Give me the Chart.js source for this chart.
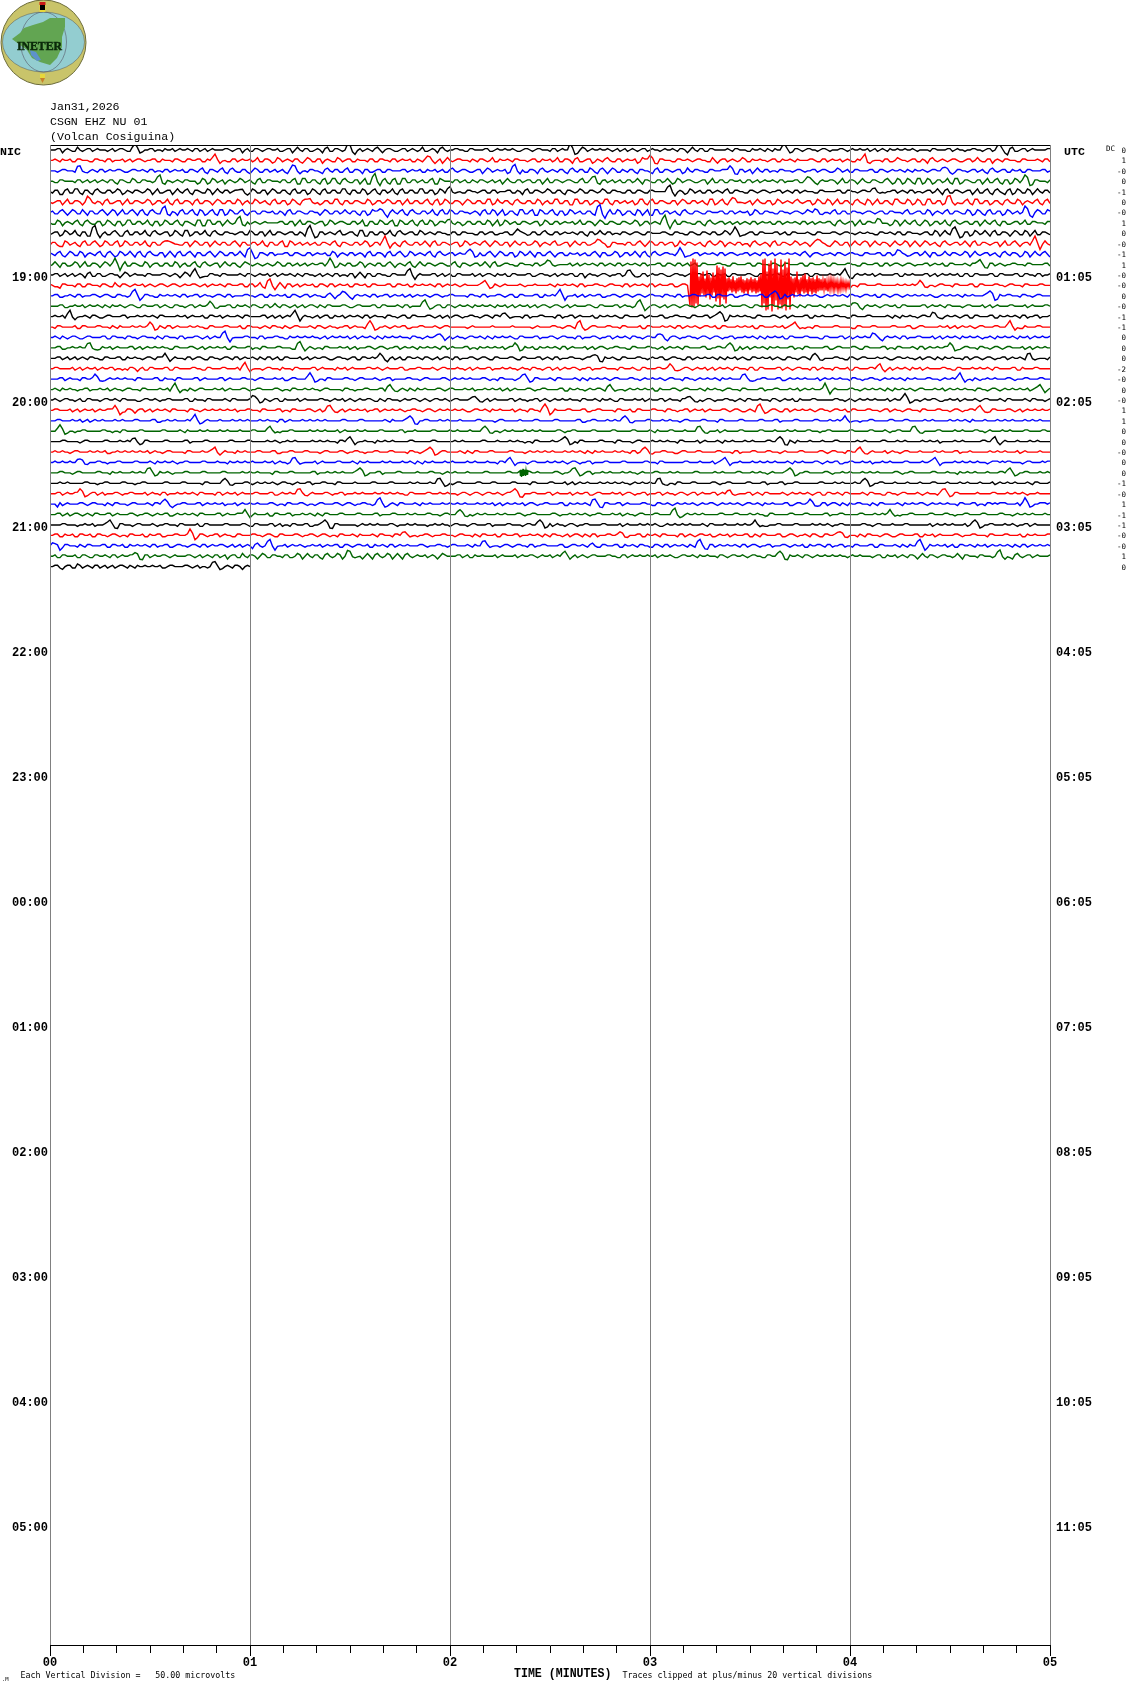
<!DOCTYPE html>
<html><head><meta charset="utf-8">
<script src="https://cdn.jsdelivr.net/npm/chart.js@4"></script>
<style>html,body{margin:0;padding:0;background:#fff;width:1130px;height:1689px;overflow:hidden}
#wrap{position:relative;width:1130px;height:1689px}canvas{position:absolute;left:0;top:0}svg{position:absolute;left:0;top:0}</style>
</head><body><div id="wrap">
<canvas id="c" width="1130" height="1689"></canvas>
<svg width="90" height="88" viewBox="0 0 90 88">
<circle cx="43.5" cy="42.5" r="42.5" fill="#c9c46a" stroke="#6b6b3a" stroke-width="1"/>
<ellipse cx="43.5" cy="42" rx="41" ry="30" fill="#93cdd0" stroke="#555" stroke-width=".5"/>
<ellipse cx="43.5" cy="42" rx="23" ry="30" fill="none" stroke="#556" stroke-width=".6"/>
<path d="M12 39 L20 33 L24 28 L33 25 L43 22 L50 18 L65 18 L65 27 L62 37 L62 47 L57 58 L50 65 L40 62 L32 58 L27 50 L20 45Z" fill="#62a552"/>
<path d="M30 50 L36 52 L41 60 L37 61 L31 55Z" fill="#5d92cc"/>
<rect x="39.5" y="2" width="6" height="10" fill="#e8d83a"/><rect x="39.5" y="2" width="6" height="3" fill="#c81818"/><rect x="40" y="5" width="5" height="5" fill="#000"/>
<rect x="40" y="74" width="5" height="4" fill="#e8d83a"/><path d="M40 78 L45 78 L42.5 83Z" fill="#c8802a"/>
<text x="17" y="49.5" font-family="Liberation Serif" font-weight="bold" font-size="13" textLength="45" lengthAdjust="spacingAndGlyphs" fill="#0a2a0a" stroke="#0a2a0a" stroke-width=".5">INETER</text>
</svg></div>
<script>
const headerLines=["Jan31,2026","CSGN EHZ NU 01","(Volcan Cosiguina)"];
const nicLabels=["19:00","20:00","21:00","22:00","23:00","00:00","01:00","02:00","03:00","04:00","05:00"];
const utcLabels=["01:05","02:05","03:05","04:05","05:05","06:05","07:05","08:05","09:05","10:05","11:05"];
const hourRows=[12,24,36,48,60,72,84,96,108,120,132];
const minuteLabels=["00","01","02","03","04","05"];
const traceColors=["#000000","#ff0000","#0000ff","#006400"];
const dcValues=["0","1","-0","0","-1","0","-0","1","0","-0","-1","1","-0","-0","0","-0","-1","-1","0","0","0","-2","-0","0","-0","1","1","0","0","-0","0","0","-1","-0","1","-1","-1","-0","-0","1","0"];
// estimated wiggle of each trace, 2 = trace baseline
const t00=[2,2,3,2,2,1,2,2,3,2, 2,2,2,1,3,2,1,3,2,2, 3,1,2,3,2,1,3,2,2,3, 1,3,2,2,2,3,2,2,3,2, 1,3,2,2,3,2,1,2,3,2, 2,3,1,2,2,3,1,3,2,2, 2,1,3,2,2,3,2,2,3,1, 2,3,2,2,2,1,2,2,3,2, 2,3,2,1,3,2,2,3,1,2, 2,3,2,2,1,3,2,2,3,2, 1,3,2,2,3,1,2,3,2,2, 3,2,2,2,1,3,2,2,2,3, 2,2,1,3,2,2,3,2,2,2, 3,1,3,2,2,2,2,3,2,2, 1,2,3,1,2,3,2,2,2,3, 2,2,3,2,2,3,1,2,3,2, 2,2,3,2,1,3,2,2,3,2, 2,3,2,2,2,2,1,3,2,2, 3,2,2,1,2,3,2,2,3,2, 2,2,3,1,2,3,2,2,2,2,3];
const t01=[2,3,1,2,3,1,3,2,1,3, 2,1,3,2,2,1,3,2,3,1, 2,3,1,2,2,3,2,1,3,2, 3,1,2,3,2,2,1,3,2,2, 3,2,1,3,2,1,3,2,2,3, 1,2,3,1,3,2,2,1,3,2, 3,1,2,2,3,1,3,2,1,3, 2,2,3,1,2,3,1,2,3,2, 2,2,3,2,1,2,3,2,2,1, 3,2,2,3,2,2,2,3,1,2, 3,2,1,3,2,3,1,2,3,1, 2,3,2,1,3,2,2,3,1,3, 2,2,3,2,2,1,3,2,2,2, 3,2,1,2,2,3,2,2,2,3, 1,2,3,2,2,3,1,2,3,1, 2,2,3,2,1,3,2,2,3,2, 2,1,2,3,2,2,2,3,1,2, 3,2,2,3,1,2,3,2,2,2, 2,3,1,2,3,2,2,1,3,2, 2,3,2,2,1,3,2,2,2,3,1];
const t02=[2,2,2,3,2,1,2,3,2,2, 3,1,3,2,3,1,2,3,2,2, 3,1,2,3,1,3,2,1,3,2, 3,1,3,2,3,1,3,2,1,3, 0,4,1,3,1,3,2,1,3,2, 2,2,3,2,1,3,2,3,1,3, 1,3,2,3,1,2,3,1,3,2, 2,3,2,2,3,1,2,3,2,1, 3,2,2,3,1,2,3,2,3,2, 2,3,1,3,2,1,3,2,3,2, 2,2,3,1,3,2,3,1,4,1, 3,2,2,3,1,2,3,1,3,2, 1,3,1,3,2,2,3,1,2,3, 2,1,3,2,2,3,2,2,3,1, 3,2,2,3,1,2,3,2,2,2, 3,1,2,3,2,3,1,2,3,2, 1,3,2,2,3,1,3,2,2,2, 3,1,2,3,2,2,2,3,2,1, 3,1,3,2,2,3,2,1,3,2, 2,3,1,2,3,1,3,2,2,3,2];
const t03=[2,1,3,2,2,1,3,2,1,3, 2,2,3,1,3,2,1,3,1,3, 2,2,3,2,2,2,2,3,2,2, 1,3,1,3,2,0,3,1,4,1, 3,0,4,1,3,2,1,3,1,4, 0,4,1,3,0,4,1,4,0,4, 1,3,0,4,0,4,1,4,0,4, 0,4,1,3,2,1,3,0,4,2, 2,3,1,3,1,2,3,2,2,1, 3,2,2,1,3,2,3,1,3,2, 1,3,2,2,3,1,3,1,3,2, 2,3,2,1,3,1,3,2,2,3, 2,1,3,2,2,1,3,2,3,1, 2,3,2,1,3,1,3,2,3,1, 3,2,1,3,2,2,3,1,2,3, 1,3,1,3,2,2,3,2,2,1, 3,2,2,2,1,3,1,3,2,1, 3,1,3,0,4,1,3,1,3,2, 1,4,0,3,2,1,3,2,1,3, 1,3,0,4,1,3,1,3,2,2,3];
const t04=[2,3,0,3,1,4,1,3,1,3, 2,1,3,2,3,1,2,3,2,2, 3,2,1,2,3,2,2,3,1,3, 2,1,3,2,2,3,1,3,0,3, 1,3,1,3,2,3,1,3,0,4, 1,3,1,3,0,4,1,3,1,4, 0,3,1,3,1,4,0,3,2,1, 3,1,3,1,4,1,3,0,4,1, 2,3,2,1,3,2,2,3,1,3, 2,2,3,1,2,3,1,3,2,2, 3,1,3,0,3,1,4,1,3,2, 2,3,1,3,2,1,3,1,3,1, 3,2,2,2,3,1,3,0,4,1, 3,1,3,2,2,3,1,3,2,1, 3,2,2,3,1,2,3,2,2,3, 1,3,2,1,3,2,2,2,3,1, 3,2,2,3,2,1,3,1,2,3, 2,2,3,1,2,2,3,2,2,3, 1,3,2,2,3,2,1,3,1,3, 2,0,4,1,3,1,3,2,2,3,1];
const t05=[2,2,3,2,1,3,2,2,1,3, 2,3,1,2,3,2,1,3,2,2, 3,1,3,2,1,3,1,3,2,3, 1,3,2,2,3,1,3,1,3,2, 1,4,1,3,0,4,1,3,1,3, 0,4,1,3,0,3,1,4,1,3, 1,3,2,1,3,1,3,2,3,1, 3,2,1,3,1,3,1,3,0,4, 1,3,2,2,3,1,3,1,4,1, 2,3,1,3,2,1,3,1,3,2, 1,4,1,3,0,4,1,3,0,3, 1,4,1,3,1,3,2,0,4,1, 3,1,3,2,1,3,2,3,1,3, 2,1,4,0,3,1,3,1,4,1, 3,2,2,1,3,1,3,2,2,3, 2,2,3,1,3,1,3,2,1,3, 1,3,2,0,3,2,1,3,1,4, 2,1,3,1,3,0,4,1,3,1, 3,2,1,3,1,4,1,3,0,3, 1,3,2,1,3,2,2,3,1,3,1];
const t06=[2,1,3,2,2,3,1,2,3,1, 3,2,2,3,2,1,3,2,3,1, 3,2,1,3,2,2,3,1,3,1, 4,0,3,1,4,0,4,1,3,1, 2,3,1,3,2,1,3,0,4,1, 3,1,3,2,0,4,1,3,1,4, 1,3,0,3,1,3,1,3,2,2, 3,1,3,2,1,3,2,1,3,1, 4,1,3,2,1,3,0,4,1,3, 2,0,3,1,4,1,3,0,4,1, 3,1,3,0,4,1,3,1,3,0, 4,0,4,1,3,1,3,0,3,2, 0,4,1,3,1,3,0,4,1,3, 2,1,3,2,3,1,3,1,3,2, 0,4,1,3,2,1,3,2,1,3, 2,2,3,1,3,2,1,4,1,3, 1,3,2,2,3,1,3,1,3,2, 2,3,1,2,3,1,3,2,2,3, 1,3,2,1,3,1,3,0,4,1, 3,1,3,2,1,3,2,2,3,1,3];
const t07=[2,1,3,2,2,3,1,3,2,1, 3,1,3,0,3,1,4,1,3,2, 1,3,0,4,1,3,1,3,2,0, 4,0,4,1,3,2,2,2,3,2, 1,3,1,3,2,2,3,1,3,0, 4,1,3,1,3,0,4,1,3,2, 1,3,2,0,3,1,4,1,3,0, 4,1,3,1,3,1,4,0,3,2, 1,3,2,1,3,1,3,1,3,2, 0,4,1,3,1,3,1,3,0,4, 1,3,1,3,2,1,4,1,3,0, 4,1,3,2,1,3,1,4,0,3, 1,3,1,4,0,4,1,3,2,1, 3,0,4,1,3,1,3,2,1,3, 1,3,2,2,3,1,3,2,2,3, 1,3,2,1,3,2,3,0,4,1, 3,0,4,1,3,2,1,4,0,4, 0,4,1,4,0,4,0,3,1,4, 0,4,1,3,1,3,0,4,1,4, 0,3,1,3,1,4,1,3,2,1,3];
const t08=[1,3,0,4,1,4,0,3,0,4, 1,3,1,4,0,3,1,3,1,4, 0,4,1,3,0,4,1,4,0,3, 1,4,0,4,1,3,2,1,3,1, 4,1,3,0,4,1,3,1,3,1, 3,0,4,1,3,1,3,1,4,1, 3,1,4,0,3,1,3,1,4,0, 4,1,3,1,4,1,3,1,3,2, 1,3,1,3,2,1,3,1,3,1, 2,3,1,3,0,4,1,3,1,4, 1,3,1,3,2,2,3,1,3,1, 4,1,3,2,1,3,1,3,2,1, 3,2,2,3,1,3,2,1,3,2, 1,3,1,3,1,4,1,3,2,1, 3,1,3,2,2,3,1,3,1,3, 2,2,2,1,3,2,2,3,1,3, 2,1,3,2,2,1,3,2,3,1, 3,1,3,2,1,3,1,4,0,4, 1,3,1,3,0,4,1,4,0,4, 1,3,0,4,1,4,0,4,1,3,1];
const t09=[1,3,0,4,1,3,0,4,1,4, 0,4,1,3,0,4,1,3,1,4, 0,3,1,4,0,4,1,3,0,4, 1,3,0,4,1,3,1,4,0,3, 1,3,2,1,3,1,3,0,4,1, 3,2,1,3,1,3,1,4,0,3, 1,3,1,4,0,3,1,4,1,3, 0,4,1,3,1,4,0,4,1,3, 1,3,0,4,1,3,1,4,0,4, 1,3,0,4,1,3,1,4,0,3, 1,4,1,3,0,4,1,3,1,3, 1,4,0,3,2,1,3,1,4,0, 4,1,3,1,3,0,4,1,3,1, 3,0,4,1,4,0,3,1,3,2, 0,4,1,3,0,4,1,3,1,4, 1,3,0,4,1,4,0,4,1,3, 0,4,1,4,0,4,1,3,0,4, 1,4,0,4,0,4,1,3,0,4, 1,3,1,4,0,4,1,3,1,3, 0,4,1,4,0,3,1,4,0,4,1];
const t10=[3,1,4,0,4,1,4,0,3,1, 4,0,4,0,4,1,4,0,4,0, 4,1,3,0,4,0,4,1,4,0, 3,1,4,0,4,1,3,1,4,0, 3,1,3,2,3,1,2,3,1,3, 2,1,3,2,2,3,1,3,2,2, 3,1,3,0,4,1,3,0,4,1, 4,0,4,1,3,1,4,0,4,1, 3,1,3,2,2,2,3,1,4,0, 4,1,3,0,4,1,4,0,3,1, 4,0,3,1,3,2,1,3,1,4, 0,3,1,4,0,3,1,4,0,4, 0,4,1,3,2,1,3,2,1,3, 1,3,2,2,3,1,3,2,2,3, 1,3,1,3,2,1,3,2,2,3, 1,4,0,3,2,2,3,1,3,1, 3,2,1,3,2,2,3,1,3,2, 1,4,1,3,1,4,0,3,1,4, 1,3,1,4,0,4,1,3,1,3, 0,4,1,3,0,4,0,4,1,4,0];
const t11=[1,4,0,3,1,4,0,4,1,3, 0,4,1,3,0,4,1,3,1,4, 0,3,1,3,1,4,0,3,1,4, 0,4,1,3,0,4,1,3,0,4, 2,2,2,2,2,2,3,1,3,2, 1,3,2,2,3,1,3,2,3,1, 3,1,4,0,3,1,3,1,4,0, 3,1,4,0,4,1,3,1,3,2, 1,4,0,3,1,3,1,4,0,4, 1,3,2,1,3,2,2,3,1,3, 1,3,2,2,3,2,1,3,2,2, 3,1,3,1,3,2,2,3,1,3, 2,2,3,1,3,1,3,2,1,3, 1,3,2,2,3,2,1,3,2,2, 3,1,3,2,1,3,1,3,2,2, 3,1,3,2,2,3,1,3,2,2, 3,2,1,3,2,3,1,3,1,3, 2,2,3,1,2,3,1,3,2,1, 3,2,2,3,1,3,2,2,3,1, 3,1,2,3,2,1,3,2,2,3,1];
const t12=[2,3,1,3,2,1,3,0,4,1, 3,1,3,2,0,4,1,3,2,1, 3,2,2,3,1,3,0,4,1,3, 2,1,3,2,1,3,2,2,3,1, 3,1,3,2,1,3,2,2,3,1, 2,3,2,1,3,2,2,3,1,2, 3,0,4,0,3,1,3,2,1,3, 2,2,3,1,3,2,2,3,2,1, 3,1,3,2,2,1,3,2,3,1, 2,3,1,3,2,2,3,1,3,2, 1,3,2,2,3,1,3,0,3,2, 2,3,1,2,3,2,2,3,1,3, 2,2,3,2,1,3,2,1,3,1, 3,2,3,1,2,3,1,3,2,2, 3,1,3,2,2,3,2,1,3,2, 2,3,1,3,2,2,3,2,2,3, 2,2,2,3,2,1,3,2,2,3, 1,3,2,2,2,3,1,3,2,2, 3,2,1,3,1,3,2,2,3,1, 3,2,2,3,1,3,2,1,3,2,3];
const t13=[3,1,0,3,2,1,3,1,3,2, 1,3,1,4,1,3,1,3,2,1, 3,1,3,2,2,3,1,3,2,3, 1,3,2,2,3,1,3,2,3,1, 3,1,4,0,3,1,4,0,3,2, 1,3,2,1,3,2,3,1,3,2, 1,3,2,3,1,3,2,2,3,1, 3,2,1,3,2,2,3,1,3,2, 2,3,1,3,2,2,3,2,2,3, 1,3,2,2,3,1,2,3,2,2, 3,1,2,3,2,2,3,1,2,3, 2,1,3,2,2,3,1,3,2,2, 3,1,3,2,3,1,2,3,2,2, 1,3,2,2,3,2,2,3,1,2, 3,2,2,2,3,1,3,2,2,3, 2,2,2,3,2,2,2,3,1,3, 2,2,3,3,2,2,3,2,2,2, 2,3,2,2,2,3,2,1,3,2, 2,3,2,2,3,1,3,2,2,3, 2,1,3,2,2,3,2,2,3,2,2];
const t14=[2,3,1,2,3,1,3,2,2,3, 1,3,2,1,3,2,2,3,1,3, 2,1,3,2,2,3,1,3,2,3, 1,3,2,2,3,1,3,2,2,3, 2,1,3,1,3,2,2,3,1,3, 1,3,1,3,2,1,4,0,3,1, 3,2,2,3,1,3,2,3,1,3, 2,1,3,2,2,3,1,3,2,2, 3,2,2,2,3,2,1,3,2,2, 3,1,3,1,3,2,2,3,1,3, 2,2,3,1,2,3,2,1,3,2, 3,1,2,3,1,3,2,2,3,1, 3,2,2,3,2,1,3,2,2,3, 2,2,3,1,3,2,3,1,2,3, 2,2,3,1,3,2,2,3,2,2, 3,2,2,3,1,2,2,3,2,2, 3,2,1,3,2,3,1,3,1,3, 2,2,2,3,2,2,3,1,2,2, 3,2,2,3,2,2,2,3,2,1, 3,2,3,2,1,3,2,2,3,2,2];
const t15=[2,2,3,1,2,3,2,1,3,2, 2,3,1,2,3,1,3,2,1,3, 2,3,1,3,1,3,2,1,3,1, 3,2,2,3,2,2,3,1,2,3, 1,3,1,3,1,4,1,3,1,3, 2,1,3,2,3,1,3,2,2,3, 1,2,3,2,2,3,1,3,2,2, 2,3,1,2,2,3,2,2,3,1, 3,1,3,2,2,3,2,2,3,1, 2,3,2,1,3,2,1,3,2,3, 1,3,2,2,1,3,2,2,3,1, 3,2,2,3,1,3,2,2,3,1, 2,3,1,3,2,3,1,3,2,1, 3,2,2,3,2,1,3,2,2,3, 1,3,2,2,3,2,1,3,2,2, 3,1,3,2,3,1,3,2,2,3, 2,1,3,2,2,3,1,3,2,3, 1,3,2,2,2,3,2,2,3,1, 3,2,2,2,3,2,2,1,3,2, 2,2,3,2,2,3,2,2,2,3,2];
const t16=[2,3,2,1,3,2,2,3,1,3, 1,2,3,2,2,3,2,2,2,3, 2,2,3,2,2,2,2,3,2,2, 2,1,3,2,3,2,2,2,2,3, 2,2,2,3,2,1,3,2,2,3, 1,3,2,2,1,3,1,3,2,1, 3,2,2,3,1,3,2,1,3,2, 2,3,1,3,2,2,3,1,3,2, 1,3,2,2,3,2,1,3,2,3, 2,1,3,2,2,3,1,2,3,2, 2,1,3,2,3,1,3,2,2,1, 3,2,2,3,1,3,2,2,3,1, 3,2,3,1,2,3,2,2,1,3, 2,3,1,3,2,1,3,2,2,3, 2,1,3,2,2,3,1,3,2,2, 2,3,1,3,2,2,2,3,2,2, 1,3,2,2,3,2,2,2,2,3, 1,2,3,2,2,3,2,1,3,2, 2,3,1,3,1,3,2,2,3,1, 3,2,2,3,1,3,2,3,1,2,3];
const t17=[2,1,3,2,2,3,1,3,2,2, 3,2,1,2,3,2,2,2,3,2, 2,2,3,1,3,2,2,2,3,2, 2,1,3,2,2,3,2,2,3,1, 3,2,1,3,1,3,2,3,1,3, 2,2,3,1,3,1,3,2,2,3, 1,3,2,1,3,2,2,3,1,3, 2,3,1,2,3,2,2,3,1,3, 2,2,2,2,2,2,2,2,2,2, 2,2,2,2,2,2,2,2,2,2, 2,3,2,2,3,1,3,2,2,3, 2,2,3,2,1,3,2,2,3,1, 3,2,2,2,3,1,3,2,2,3, 1,3,2,3,1,3,2,2,2,3, 2,1,3,2,2,3,2,1,3,2, 3,1,2,3,2,2,2,3,2,2, 2,1,3,2,2,3,2,2,2,3, 2,2,3,1,3,2,2,2,3,2, 1,3,2,2,3,1,3,2,2,3, 2,2,3,2,1,3,2,2,3,2,2];
const t18=[2,3,1,2,2,3,1,2,3,2, 2,3,1,3,2,1,3,2,2,3, 2,1,2,3,2,2,3,1,2,3, 2,2,1,3,2,3,1,2,2,3, 2,2,3,1,2,3,2,1,3,2, 2,3,2,2,1,3,2,2,3,2, 1,3,2,2,3,1,2,3,2,2, 3,2,1,3,2,2,2,3,1,2, 3,2,2,1,3,2,3,1,2,3, 2,2,3,1,3,2,2,3,1,2, 3,2,2,3,2,1,3,2,2,3, 1,2,3,2,2,3,1,3,2,2, 3,2,1,3,2,3,1,2,3,2, 2,3,1,3,2,2,3,1,2,3, 2,2,3,1,2,3,2,1,3,2, 2,3,2,2,1,3,2,2,3,1, 3,2,2,3,2,1,3,2,2,3, 1,3,2,2,3,2,2,1,3,2, 2,3,1,2,3,2,2,2,3,1, 2,3,2,2,3,2,1,3,2,2,3];
const t19=[2,2,3,1,2,2,3,2,2,3, 1,2,3,2,2,2,3,1,3,2, 2,3,2,2,1,3,2,2,3,2, 2,1,3,2,2,3,1,3,2,2, 3,2,1,3,2,2,3,2,2,1, 3,2,3,1,2,3,2,2,3,2, 1,3,2,2,3,1,3,2,2,3, 1,3,2,2,3,2,2,3,1,3, 2,2,2,3,1,2,3,2,2,3, 2,1,3,2,2,3,2,1,3,2, 2,3,1,3,2,2,2,3,2,1, 3,2,2,3,2,2,1,3,2,2, 3,2,2,1,3,2,2,3,2,2, 2,3,1,2,3,2,2,2,3,2, 1,3,2,2,3,2,2,2,3,1, 2,3,2,2,2,3,1,2,3,2, 2,3,1,3,2,2,2,3,2,1, 3,2,2,2,3,1,3,2,2,3, 2,2,1,3,2,2,3,2,1,3, 2,2,3,2,2,1,3,2,2,3,2];
const t20=[2,2,3,2,1,3,2,2,3,2, 1,3,2,2,3,1,2,3,2,2, 3,1,3,2,2,3,2,1,3,2, 3,1,3,2,1,3,2,3,1,3, 2,2,3,1,3,2,1,3,2,2, 3,2,1,3,2,3,1,2,3,2, 2,3,1,3,2,2,2,3,2,1, 3,1,3,2,2,3,2,2,1,3, 2,3,1,2,3,2,2,3,1,3, 2,2,3,2,1,3,2,2,3,2, 2,3,1,2,3,2,2,2,3,1, 2,3,2,2,1,3,2,2,3,2, 2,2,3,1,2,3,2,1,3,2, 2,3,2,2,3,1,2,3,2,2, 1,3,2,2,3,2,2,1,3,2, 2,3,1,2,3,2,2,3,2,1, 3,2,2,3,2,2,2,3,1,2, 3,2,2,1,3,2,3,1,2,3, 2,2,2,3,1,3,2,2,3,1, 2,3,2,2,3,1,2,3,2,2,3];
const t21=[2,3,2,2,2,1,3,2,2,3, 2,2,3,1,2,2,3,2,2,1, 3,2,2,3,1,3,2,2,2,3, 2,1,3,2,2,3,2,2,1,3, 2,2,2,2,3,2,1,2,2,3, 2,2,2,3,2,2,2,1,2,3, 2,2,2,2,3,2,2,2,2,2, 3,1,2,2,3,2,2,2,2,3, 2,2,2,1,3,2,2,2,3,2, 2,2,3,2,2,2,1,3,2,2, 3,2,1,3,2,3,1,2,3,2, 2,3,2,2,3,2,2,2,1,3, 2,2,3,2,2,3,1,3,2,2, 2,3,2,1,3,2,2,3,2,2, 3,1,3,2,2,2,3,2,2,2, 3,2,1,3,2,2,2,3,2,2, 1,3,2,2,3,2,2,2,3,2, 2,3,1,2,3,2,2,2,2,3, 2,1,3,2,2,2,3,2,2,3, 2,2,2,3,1,2,2,3,2,2,2];
const t22=[2,2,3,1,3,2,1,3,2,2, 3,1,3,2,2,3,2,1,3,2, 2,3,1,3,2,1,3,2,2,3, 1,3,2,2,3,1,3,2,2,3, 2,1,3,2,2,3,2,1,2,3, 2,2,3,2,2,1,3,2,2,3, 2,1,3,2,2,3,1,2,3,2, 2,2,3,2,1,3,2,2,2,3, 1,3,2,2,3,2,2,3,1,2, 3,2,2,1,3,2,2,3,2,2, 3,1,3,2,2,3,1,2,3,2, 2,3,1,3,2,2,3,2,1,3, 2,2,3,1,3,2,2,3,2,1, 3,2,2,3,1,2,3,2,2,2, 3,1,2,3,2,2,3,1,3,2, 2,3,2,2,1,3,2,2,3,2, 1,3,2,2,3,2,1,3,2,2, 3,1,2,3,2,2,3,2,1,3, 2,2,3,2,2,3,1,2,2,3, 2,2,3,1,2,3,2,2,3,2,2];
const t23=[2,3,1,2,3,2,2,3,1,2, 3,2,1,3,2,2,3,2,1,3, 2,2,3,2,1,3,2,2,3,1, 3,2,2,3,2,1,3,2,2,3, 1,2,3,2,2,3,2,2,1,3, 2,3,2,2,1,3,2,2,2,3, 2,1,2,3,2,2,3,1,2,3, 2,2,3,1,2,3,2,2,3,1, 3,2,2,3,2,1,2,3,2,2, 3,2,1,3,2,2,3,1,2,3, 2,2,3,1,3,2,2,1,3,2, 3,1,2,3,2,1,3,2,2,3, 2,1,3,2,2,3,1,3,2,2, 3,1,2,3,2,2,3,2,1,3, 2,2,3,1,2,3,2,2,3,2, 1,3,2,2,2,3,1,3,2,2, 3,2,1,3,2,2,3,1,2,3, 2,2,3,1,3,2,2,3,2,1, 3,2,2,3,2,1,3,2,2,3, 1,3,2,2,3,2,1,3,2,2,3];
const t24=[2,3,1,3,2,1,3,1,3,2, 1,3,2,3,1,3,2,2,1,3, 2,3,1,2,3,2,2,3,1,3, 2,1,3,2,2,3,1,3,2,2, 3,1,2,3,1,3,1,3,2,2, 1,3,2,2,3,2,1,3,2,1, 3,1,3,2,3,1,3,1,3,2, 1,3,2,3,1,3,1,3,2,3, 1,3,2,2,3,1,3,2,1,3, 2,2,3,1,3,2,2,3,1,3, 1,3,2,2,3,2,1,3,2,3, 1,2,3,1,3,2,2,3,2,1, 3,2,3,1,3,2,1,3,1,3, 2,2,3,1,2,3,2,1,3,1, 3,2,3,2,1,3,1,3,2,1, 3,2,2,3,2,2,2,3,2,1, 3,1,3,2,2,3,2,2,1,3, 2,3,2,2,1,3,2,3,1,2, 3,2,1,3,2,3,1,3,2,2, 3,1,3,2,2,3,1,3,2,1,3];
const t25=[2,3,2,2,3,2,1,3,2,1, 3,2,3,2,1,1,3,0,3,1, 3,2,2,3,1,3,2,2,3,2, 1,3,2,2,3,2,2,3,2,2, 3,2,1,3,2,2,3,2,1,3, 2,2,3,1,3,2,2,3,2,1, 3,2,2,3,2,3,1,3,2,2, 3,1,2,3,2,2,3,1,3,2, 2,3,2,2,1,3,2,3,1,2, 3,2,2,1,3,2,3,2,1,3, 1,3,2,2,3,2,2,3,1,2, 3,2,2,1,3,2,3,1,3,2, 2,3,2,1,3,2,2,3,1,3, 2,1,3,2,2,3,1,3,2,1, 3,1,3,2,2,3,1,3,1,3, 2,2,3,1,3,2,1,3,2,3, 1,3,2,2,3,2,1,3,1,3, 2,2,3,2,1,3,2,2,3,2, 1,3,2,2,3,2,2,3,1,3, 2,2,3,1,3,2,2,3,2,2,3];
const t26=[2,2,3,2,2,2,3,2,1,3, 2,2,2,3,2,2,2,3,2,2, 2,3,1,2,2,3,2,2,2,3, 2,2,2,2,3,2,2,2,3,2, 2,2,3,2,2,2,3,1,3,2, 2,2,3,2,2,3,2,2,2,3, 2,2,3,2,2,2,2,3,1,2, 2,3,2,2,2,3,2,2,3,2, 2,2,3,2,2,2,3,2,2,1, 3,2,2,2,3,2,2,3,2,2, 2,3,2,2,2,2,3,1,2,3, 2,2,2,3,2,2,3,2,2,2, 3,2,2,2,3,2,1,3,2,2, 2,3,2,2,3,2,2,2,3,2, 2,2,3,2,2,3,1,2,2,3, 2,2,2,3,2,2,3,2,2,2, 3,2,1,2,3,2,2,2,3,2, 2,3,2,2,2,3,2,2,2,2, 3,2,2,3,1,2,2,3,2,2, 2,3,2,2,2,3,2,2,3,2,2];
const t27=[2,2,3,2,2,1,2,3,2,2, 2,3,2,2,1,3,2,2,3,2, 2,2,2,3,2,2,3,1,2,2, 3,2,2,2,3,2,2,2,3,2, 2,3,2,2,2,3,1,2,3,2, 2,2,3,2,2,3,2,2,1,3, 2,2,2,3,2,2,3,2,2,2, 3,1,2,3,2,2,2,3,2,2, 3,2,2,2,3,2,2,2,3,2, 1,3,2,2,2,3,2,2,3,2, 2,2,3,1,2,3,2,2,2,3, 2,2,2,3,2,2,2,3,2,2, 3,1,2,2,3,2,2,3,2,2, 2,3,2,2,1,3,2,2,3,2, 2,2,3,2,2,3,2,2,2,3, 2,2,3,2,1,2,3,2,2,2, 3,2,2,2,3,2,2,3,1,2, 3,2,2,2,3,2,2,2,3,2, 2,3,2,2,2,3,2,1,3,2, 2,2,3,2,2,3,2,2,2,3,2];
const t28=[2,2,2,3,2,2,1,3,2,2, 2,3,2,2,3,2,2,1,2,3, 2,2,2,3,2,2,2,3,1,2, 2,3,2,2,2,2,3,2,2,2, 3,2,2,2,2,3,1,2,2,3, 2,2,2,2,3,2,2,2,3,2, 2,2,2,3,2,1,2,3,2,2, 2,2,3,2,2,2,2,3,2,2, 2,3,2,2,2,2,2,3,2,2, 2,2,3,2,2,1,2,3,2,2, 2,2,3,2,2,2,3,2,2,2, 3,2,2,1,3,2,2,2,3,2, 2,2,3,2,2,2,3,2,2,2, 1,3,2,2,2,3,2,2,2,3, 2,2,2,2,3,2,2,2,3,1, 2,2,3,2,2,2,2,3,2,2, 2,2,2,3,2,2,2,3,2,2, 2,3,2,2,2,2,3,2,1,2, 2,3,2,2,2,2,2,3,2,2, 2,3,2,2,2,2,3,2,2,2,2];
const t29=[2,3,2,2,1,3,2,2,3,2, 2,3,1,2,2,3,2,2,3,2, 1,3,2,2,3,2,2,1,3,2, 2,2,3,2,2,3,2,1,2,3, 2,2,3,2,2,3,1,2,3,2, 2,3,2,2,1,3,2,2,3,2, 2,3,2,1,2,3,2,2,3,2, 2,2,3,2,1,3,2,2,2,3, 2,2,3,1,2,3,2,2,3,2, 2,2,3,2,2,1,3,2,2,3, 2,2,2,3,2,2,3,1,2,3, 2,2,2,3,2,2,1,3,2,2, 3,2,2,3,2,1,2,3,2,2, 3,2,2,2,3,2,2,3,1,2, 2,3,2,2,3,2,1,3,2,2, 3,2,2,2,3,2,2,3,2,1, 3,2,2,3,2,2,2,3,2,2, 1,3,2,2,3,2,2,3,2,2, 2,3,1,2,3,2,2,2,3,2, 2,3,2,2,1,3,2,2,3,2,2];
const t30=[2,3,2,2,3,2,1,3,2,2, 3,2,2,2,3,2,2,3,2,2, 3,1,2,3,2,2,2,3,2,2, 2,3,2,2,2,2,3,2,2,3, 2,2,2,3,2,1,3,2,2,2, 3,2,2,3,2,2,2,2,3,2, 2,2,3,2,2,2,2,2,3,2, 2,2,3,1,2,3,2,2,2,3, 2,2,2,2,2,3,2,2,2,2, 3,2,2,2,2,2,2,3,2,2, 2,3,2,2,2,3,1,2,3,2, 2,3,2,2,2,3,2,2,2,3, 2,2,3,2,2,2,2,3,2,2, 3,2,2,1,3,2,2,2,3,2, 2,2,3,2,2,3,2,2,2,3, 2,2,2,3,2,2,2,3,1,2, 3,2,2,2,3,2,2,2,3,2, 2,3,2,2,2,2,3,2,2,2, 2,3,2,2,3,2,2,2,2,3, 2,2,3,2,2,2,3,2,2,2,3];
const t31=[2,2,3,2,2,2,3,2,2,2, 3,2,1,2,3,2,2,2,3,2, 2,2,3,2,2,2,2,3,2,2, 2,3,2,2,2,3,2,2,2,2, 3,2,2,2,2,3,2,2,3,2, 2,2,2,3,2,2,2,3,2,2, 2,3,2,2,2,2,3,2,2,2, 3,2,2,2,2,2,3,2,2,2, 2,3,2,2,2,2,2,3,2,2, 2,2,3,2,2,2,3,2,2,2, 2,3,2,2,3,2,2,2,3,2, 2,2,3,2,2,2,3,2,2,2, 2,3,2,2,3,2,2,2,2,3, 2,2,2,3,2,2,2,2,3,2, 2,2,3,2,2,2,2,3,2,2, 2,3,2,2,2,3,2,2,2,2, 3,2,2,2,3,2,2,2,2,3, 2,2,3,2,2,2,2,3,2,2, 2,2,3,2,2,3,2,2,2,2, 3,2,2,2,2,3,2,2,3,2,2];
const t32=[2,2,3,2,2,2,2,3,2,2, 2,3,2,2,2,3,2,1,2,3, 2,2,2,3,2,2,2,3,2,2, 2,3,2,2,2,2,3,2,2,3, 2,2,2,3,2,2,2,3,2,2, 2,2,3,2,2,3,2,1,3,2, 2,3,2,2,2,3,2,2,3,2, 2,2,3,2,2,2,3,2,2,2, 2,2,3,2,2,2,3,2,2,3, 2,2,2,3,2,2,1,3,2,2, 3,2,2,3,2,1,3,2,2,2, 3,2,2,3,2,2,1,3,2,2, 3,2,2,3,2,1,3,2,2,3, 2,2,2,3,1,2,3,2,2,2, 3,2,2,3,2,2,3,1,2,3, 2,2,2,2,3,2,2,3,2,2, 2,3,2,2,2,2,3,2,2,3, 2,2,2,2,3,2,2,3,2,2, 2,2,3,2,2,2,3,2,2,1, 3,2,2,3,2,2,2,3,2,2,3];
const t33=[2,2,3,2,2,3,2,2,2,3, 2,1,2,3,2,2,3,2,2,3, 2,2,1,3,2,2,2,3,2,2, 3,2,2,1,3,2,2,3,2,2, 2,3,2,2,3,1,2,2,3,2, 2,3,2,2,2,3,2,2,3,1, 2,3,2,2,2,3,2,2,3,2, 2,1,3,2,2,2,3,2,3,2, 2,2,2,3,1,3,2,2,3,2, 2,2,3,2,2,2,2,3,2,2, 3,2,2,2,3,2,2,3,1,2, 3,2,2,2,3,2,3,1,2,3, 2,2,3,2,2,1,3,2,2,3, 2,2,2,3,2,2,1,3,2,2, 3,2,2,3,2,2,2,2,2,2, 3,2,2,2,3,1,3,2,2,3, 2,2,2,2,3,2,2,1,3,2, 2,3,2,2,2,2,2,2,3,2, 2,3,2,2,2,2,2,2,2,3, 2,2,2,3,2,2,2,2,2,2,2];
const t34=[2,2,3,2,2,2,3,2,2,3, 2,1,2,3,2,2,2,3,2,2, 2,3,2,2,3,1,2,3,2,2, 3,2,2,3,2,1,2,3,2,2, 3,2,2,2,3,2,2,1,3,2, 3,2,2,1,3,2,2,3,2,2, 3,1,2,3,2,2,3,2,2,2, 3,2,2,3,1,2,3,2,2,2, 3,2,2,3,2,2,2,3,2,1, 3,2,2,3,2,1,3,2,2,3, 2,2,3,1,3,2,2,3,1,2, 2,3,2,2,3,2,2,2,2,3, 2,1,3,2,2,2,2,3,2,2, 2,2,3,2,2,2,3,2,2,2, 3,2,2,3,2,2,2,3,1,2, 3,2,2,3,1,3,2,3,1,2, 3,2,3,2,1,2,3,2,2,2, 2,3,2,2,3,2,2,2,3,2, 2,2,3,2,2,3,2,1,3,3, 3,3,2,2,1,3,2,2,3,3,3];
const t35=[2,2,3,2,1,3,2,2,2,3, 2,2,3,2,2,2,3,2,2,3, 2,2,2,3,1,2,2,3,2,2, 3,2,2,2,3,2,2,2,3,2, 2,3,2,2,1,3,2,2,3,2, 2,2,3,1,2,3,2,2,3,2, 2,2,3,2,2,3,1,2,2,3, 2,2,2,3,2,2,3,2,1,3, 2,2,2,3,2,2,2,3,2,2, 2,3,2,2,3,1,2,3,2,2, 2,3,1,2,3,2,2,3,1,2, 3,2,2,2,3,2,2,1,3,2, 2,3,2,2,2,3,2,2,2,3, 2,2,2,2,3,2,2,3,2,2, 3,2,2,1,3,2,2,2,3,2, 2,3,2,2,2,3,1,2,3,2, 2,2,3,2,2,3,2,2,2,3, 1,2,3,2,2,2,3,2,2,3, 2,1,2,3,2,2,2,3,2,2, 3,2,2,2,2,3,2,2,2,3,2];
const t36=[2,2,2,3,2,2,2,3,2,1, 2,3,2,2,3,2,2,2,3,2, 2,2,2,3,2,2,3,2,2,2, 1,3,2,2,2,3,2,2,2,3, 1,3,2,2,3,1,3,2,1,3, 2,3,1,2,3,2,2,3,2,2, 2,2,2,2,3,2,2,2,3,2, 2,2,2,3,2,2,2,3,2,2, 1,3,2,2,2,3,2,2,3,2, 2,2,3,2,2,2,3,2,2,2, 3,2,2,1,3,2,2,3,2,2, 2,3,2,2,3,2,2,2,3,2, 2,3,1,2,2,3,2,2,3,2, 2,2,3,2,2,3,2,2,2,3, 2,2,3,1,2,2,3,2,2,3, 2,2,2,2,3,2,2,2,3,2, 2,2,2,3,2,2,3,2,2,2, 2,3,2,2,2,2,3,2,2,3, 2,2,2,3,2,2,2,2,3,2, 2,3,2,2,2,3,1,3,2,2,2];
const t37=[2,3,1,3,2,1,3,2,3,1, 3,2,2,3,1,2,3,2,2,1, 3,2,3,1,2,3,2,2,3,1, 3,2,2,3,1,3,2,1,3,2, 2,3,2,2,3,1,3,2,2,3, 2,2,3,2,2,3,1,2,3,2, 2,2,3,2,2,2,3,2,2,3, 2,1,3,2,2,3,2,2,2,3, 2,1,3,2,2,3,1,3,2,3, 1,3,2,3,1,2,3,2,2,3, 1,3,2,2,1,3,2,3,1,3, 2,2,3,2,1,3,2,2,3,1, 2,3,1,3,2,2,3,1,3,1, 3,2,3,1,3,2,1,3,2,3, 1,3,1,3,2,2,3,1,3,2, 2,3,1,3,1,3,2,3,1,3, 2,2,3,1,3,2,1,3,2,1, 3,2,2,3,1,3,2,1,3,2, 2,3,2,2,2,3,2,2,3,2, 2,3,2,2,3,1,2,3,2,2,3];
const t38=[2,0,1,3,2,2,3,1,3,2, 2,3,1,3,2,1,3,2,2,3, 1,3,2,3,1,2,3,2,2,3, 1,3,2,2,3,2,2,1,3,2, 2,3,2,2,3,1,2,3,2,2, 3,1,2,2,3,2,2,3,1,3, 2,2,3,2,1,3,2,2,3,1, 3,2,2,2,3,2,2,2,3,2, 2,3,2,2,2,3,2,2,3,2, 1,3,2,2,3,2,3,1,2,3, 2,2,3,1,2,3,2,2,3,2, 1,3,2,3,1,3,2,2,3,2, 1,3,2,3,1,3,2,2,3,1, 3,2,3,1,3,2,2,3,1,3, 2,3,1,2,3,2,2,3,1,3, 2,1,3,2,3,1,3,2,3,1, 2,3,2,2,3,1,3,2,2,3, 1,2,3,2,3,1,3,2,2,3, 2,1,3,2,3,1,2,3,2,2, 3,2,2,3,1,3,2,2,3,2,2];
const t39=[2,3,1,3,2,3,1,3,1,3, 2,3,1,3,2,2,3,1,2,3, 1,3,2,3,1,3,2,2,3,1, 3,2,2,3,1,3,2,3,1,2, 3,2,2,3,1,3,2,3,1,2, 3,2,2,3,1,3,2,2,3,2, 2,3,2,2,2,3,2,2,3,2, 2,3,2,2,2,3,2,2,2,3, 2,2,3,2,1,3,2,2,2,3, 2,2,2,3,2,2,3,2,2,2, 3,2,2,2,2,3,2,2,2,3, 2,2,3,2,1,3,2,2,3,2, 2,3,2,2,3,1,2,3,2,2, 3,2,2,2,3,2,2,3,2,2, 2,3,2,1,3,2,2,2,3,2, 2,3,2,2,2,3,2,2,3,2, 2,2,3,2,2,2,3,1,2,3, 2,2,3,2,2,2,3,2,2,3, 2,2,2,3,2,2,3,2,2,2, 3,2,1,3,2,2,3,2,2,2,3];
const t40=[2,3,1,2,3,1,3,2,2,3, 1,3,2,1,3,2,3,1,2,3, 2,2,3,1,3,2,2,3,2,2, 1,2,2,2,2,2,2,3,2,2,2];
const traces=[t00,t01,t02,t03,t04,t05,t06,t07,t08,t09,t10,t11,t12,t13,t14,t15,t16,t17,t18,t19,t20,t21,t22,t23,t24,t25,t26,t27,t28,t29,t30,t31,t32,t33,t34,t35,t36,t37,t38,t39,t40];
// positions (5 px slots) of the small events read on each trace
const eventsRows=[[17,60,104,147,190],[33,76,120,163],[6,49,93,136,179],[22,65,109,152,195],[38,80,124,165],[8,52,137,180],[23,66,110,153,195],[38,80,123,166],[9,52,94,137,181],[24,67,110,154,197],[40,84,126,170],[13,56,100,186],[29,72,116,159],[44,87,174],[17,59,102,145,188],[32,75,118,161],[4,49,91,134,177],[20,64,106,149,192],[35,78,122,165],[8,50,93,136,180],[23,66,109,153,196],[39,124,166],[9,52,95,139,182],[25,68,112,155,198],[41,85,128,171],[13,56,99,142,186],[29,72,115,159],[2,44,87,130,173],[17,60,103,146,189],[33,76,119,162],[6,49,92,135,177],[20,62,105,148,192],[35,78,122,163],[6,50,93,136,179],[23,66,109,152,195],[39,82,125,168],[12,55,98,141,185],[28,71,114,158],[1,44,87,130,174],[17,60,103,146,190],[33]];
const eventShape=[3,5,1,-3,-2];
// burst on the red trace just after 19:05 (1 px step) and the short green burst
const burstRed=[-20,24,-22,27,-21,26,-18,23,-20, 9,-11,12,-8,14,-10,7,-12,15,-9,11,-14,8,-10,13,-7,10, -16,20,-13,18,-20,16,-12,19,-14,17,-18, 7,-6,8,-5,6,-7,9,-6,5,-8,7,-6,8,-5,9,-7,6,-8,5,-6,7,-9,6,-5,8,-7,6,-6,7,-8,5,-7,9,-6, 12,-22,26,-18,27,-25,14,-24,22,-12,25,-26,17,-20,27,-15,21,-24,13,-19,26,-23,16,-21,24,-25,18,-14,27,-24, 9,-10,7,-12,8,-7,14,-9,6,-11,8,-6,10,-8,12,-7,6,-10,9,-6,7,-9,8,-7,6,-8,10,-6,7,-5, 6,-5,5,-4,7,-5,4,-6,5,-4,6,-3,5,-5,4,-3,4,-5,3,-4,5,-3,4,-3,3,-4,3,-2,3,-3];
const burstGreen=[2,-3,3,-4,3,-3,4,-3,3,-2,3,-3,2,-2,3,-2,2];
const insets=[{row:13,start:3.2,step:0.005,values:burstRed},{row:31,start:2.35,step:0.0025,values:burstGreen}];
const tickSixths=[0,1,2,3,4,5,6,7,8,9,10,11,12,13,14,15,16,17,18,19,20,21,22,23,24,25,26,27,28,29,30];

const TRACE_ZERO=2, GAIN=1.4, PX_PER_ROW=125/12, MIN_PER_SAMPLE=0.0125;
function buildPoints(r){
  const own=traces[r], other=traces[(r+4)%40], vals=[];
  own.forEach((v,i)=>{vals.push((v-TRACE_ZERO)*GAIN); if(i<own.length-1) vals.push((other[i]-TRACE_ZERO)*GAIN);});
  eventsRows[r].forEach(p=>eventShape.forEach((s,k)=>{const i=2*p-1+k;if(i<vals.length)vals[i]+=s;}));
  let pts=vals.map((v,i)=>({x:i*MIN_PER_SAMPLE,y:r-v/PX_PER_ROW}));
  insets.filter(b=>b.row===r).forEach(b=>{
    const end=b.start+b.step*(b.values.length-1);
    const ins=b.values.map((v,j)=>({x:b.start+j*b.step,y:r-v/PX_PER_ROW}));
    pts=pts.filter(p=>p.x<b.start).concat(ins,pts.filter(p=>p.x>end));
  });
  return pts;
}
const datasets=traces.map((_,r)=>({data:buildPoints(r),borderColor:traceColors[r%4],borderWidth:1.4,pointRadius:0,tension:0,fill:false,order:-r,parsing:false,xAxisID:'x',yAxisID:'y'}));
const rowMin=(145-150)/PX_PER_ROW,rowMax=(1645-150)/PX_PER_ROW;
const isMinute=v=>Math.abs(v-Math.round(v))<1e-6;
const MONO='"Liberation Mono"',SMALL='"DejaVu Sans Mono"';
const textPlugin={id:'texts',afterDraw(chart){
  const c=chart.ctx,ys=chart.scales.y,xs=chart.scales.x;
  c.save();c.fillStyle='#000';c.textBaseline='middle';c.textAlign='left';
  c.font='11.6px '+MONO;
  headerLines.forEach((t,i)=>c.fillText(t,50,107+i*15));
  c.font='bold 11.6px '+MONO;
  c.fillText('NIC',0,152);c.fillText('UTC',1064,152);
  c.save();c.translate(514,1674);c.scale(1,1.15);c.font='bold 11.6px '+MONO;c.fillText('TIME (MINUTES)',0,0);c.restore();
  c.font='8.3px '+SMALL;
  c.fillText('Each Vertical Division =   50.00 microvolts',20.5,1676);
  c.fillText('Traces clipped at plus/minus 20 vertical divisions',622.5,1676);
  c.font='5.5px '+SMALL;c.fillText('.M',2,1680);
  c.font='7.5px '+SMALL;c.fillText('DC',1106,149);
  c.textAlign='right';
  dcValues.forEach((t,i)=>c.fillText(t,1126,ys.getPixelForValue(i)+1));
  c.strokeStyle='#000';c.lineWidth=1;
  minuteLabels.forEach((_,m)=>{const x=Math.round(xs.getPixelForValue(m))+.5;c.beginPath();c.moveTo(x,xs.top);c.lineTo(x,xs.top+11);c.stroke();});
  c.restore();
}};
new Chart(document.getElementById('c'),{type:'line',data:{datasets},plugins:[textPlugin],options:{
  responsive:false,animation:false,devicePixelRatio:1,normalized:true,spanGaps:true,
  layout:{padding:{top:145,left:0,right:0,bottom:0}},
  plugins:{legend:{display:false},tooltip:{enabled:false},title:{display:false}},
  scales:{
    x:{type:'linear',position:'bottom',min:0,max:5,afterFit(s){s.height=44;},
      afterBuildTicks(s){s.ticks=tickSixths.map(k=>({value:k/6}));},
      grid:{z:1,color:c=>isMinute(c.tick.value)?'#808080':'rgba(0,0,0,0)',tickColor:'#000',tickLength:8,lineWidth:1},
      border:{color:'#000',width:1,z:2},
      ticks:{autoSkip:false,maxRotation:0,padding:3,color:'#000',font:{family:'Liberation Mono',weight:'bold',size:12},callback:v=>isMinute(v)?minuteLabels[Math.round(v)]:''}},
    xTop:{type:'linear',position:'top',min:0,max:5,afterFit(s){s.height=0;},
      grid:{display:false,drawTicks:false,drawOnChartArea:false},border:{color:'#000',width:1},ticks:{display:false}},
    y:{type:'linear',position:'left',reverse:true,min:rowMin,max:rowMax,afterFit(s){s.width=50;},
      afterBuildTicks(s){s.ticks=hourRows.map(v=>({value:v}));},
      grid:{display:false,drawTicks:false},border:{display:false},
      ticks:{autoSkip:false,padding:2,labelOffset:2.5,color:'#000',font:{family:'Liberation Mono',weight:'bold',size:12},callback:v=>nicLabels[hourRows.indexOf(v)]}},
    yRight:{type:'linear',position:'right',reverse:true,min:rowMin,max:rowMax,afterFit(s){s.width=80;},
      afterBuildTicks(s){s.ticks=hourRows.map(v=>({value:v}));},
      grid:{display:false,drawTicks:false},border:{display:false},
      ticks:{autoSkip:false,padding:6,labelOffset:2.5,color:'#000',font:{family:'Liberation Mono',weight:'bold',size:12},callback:v=>utcLabels[hourRows.indexOf(v)]}}
  }}});
</script></body></html>
